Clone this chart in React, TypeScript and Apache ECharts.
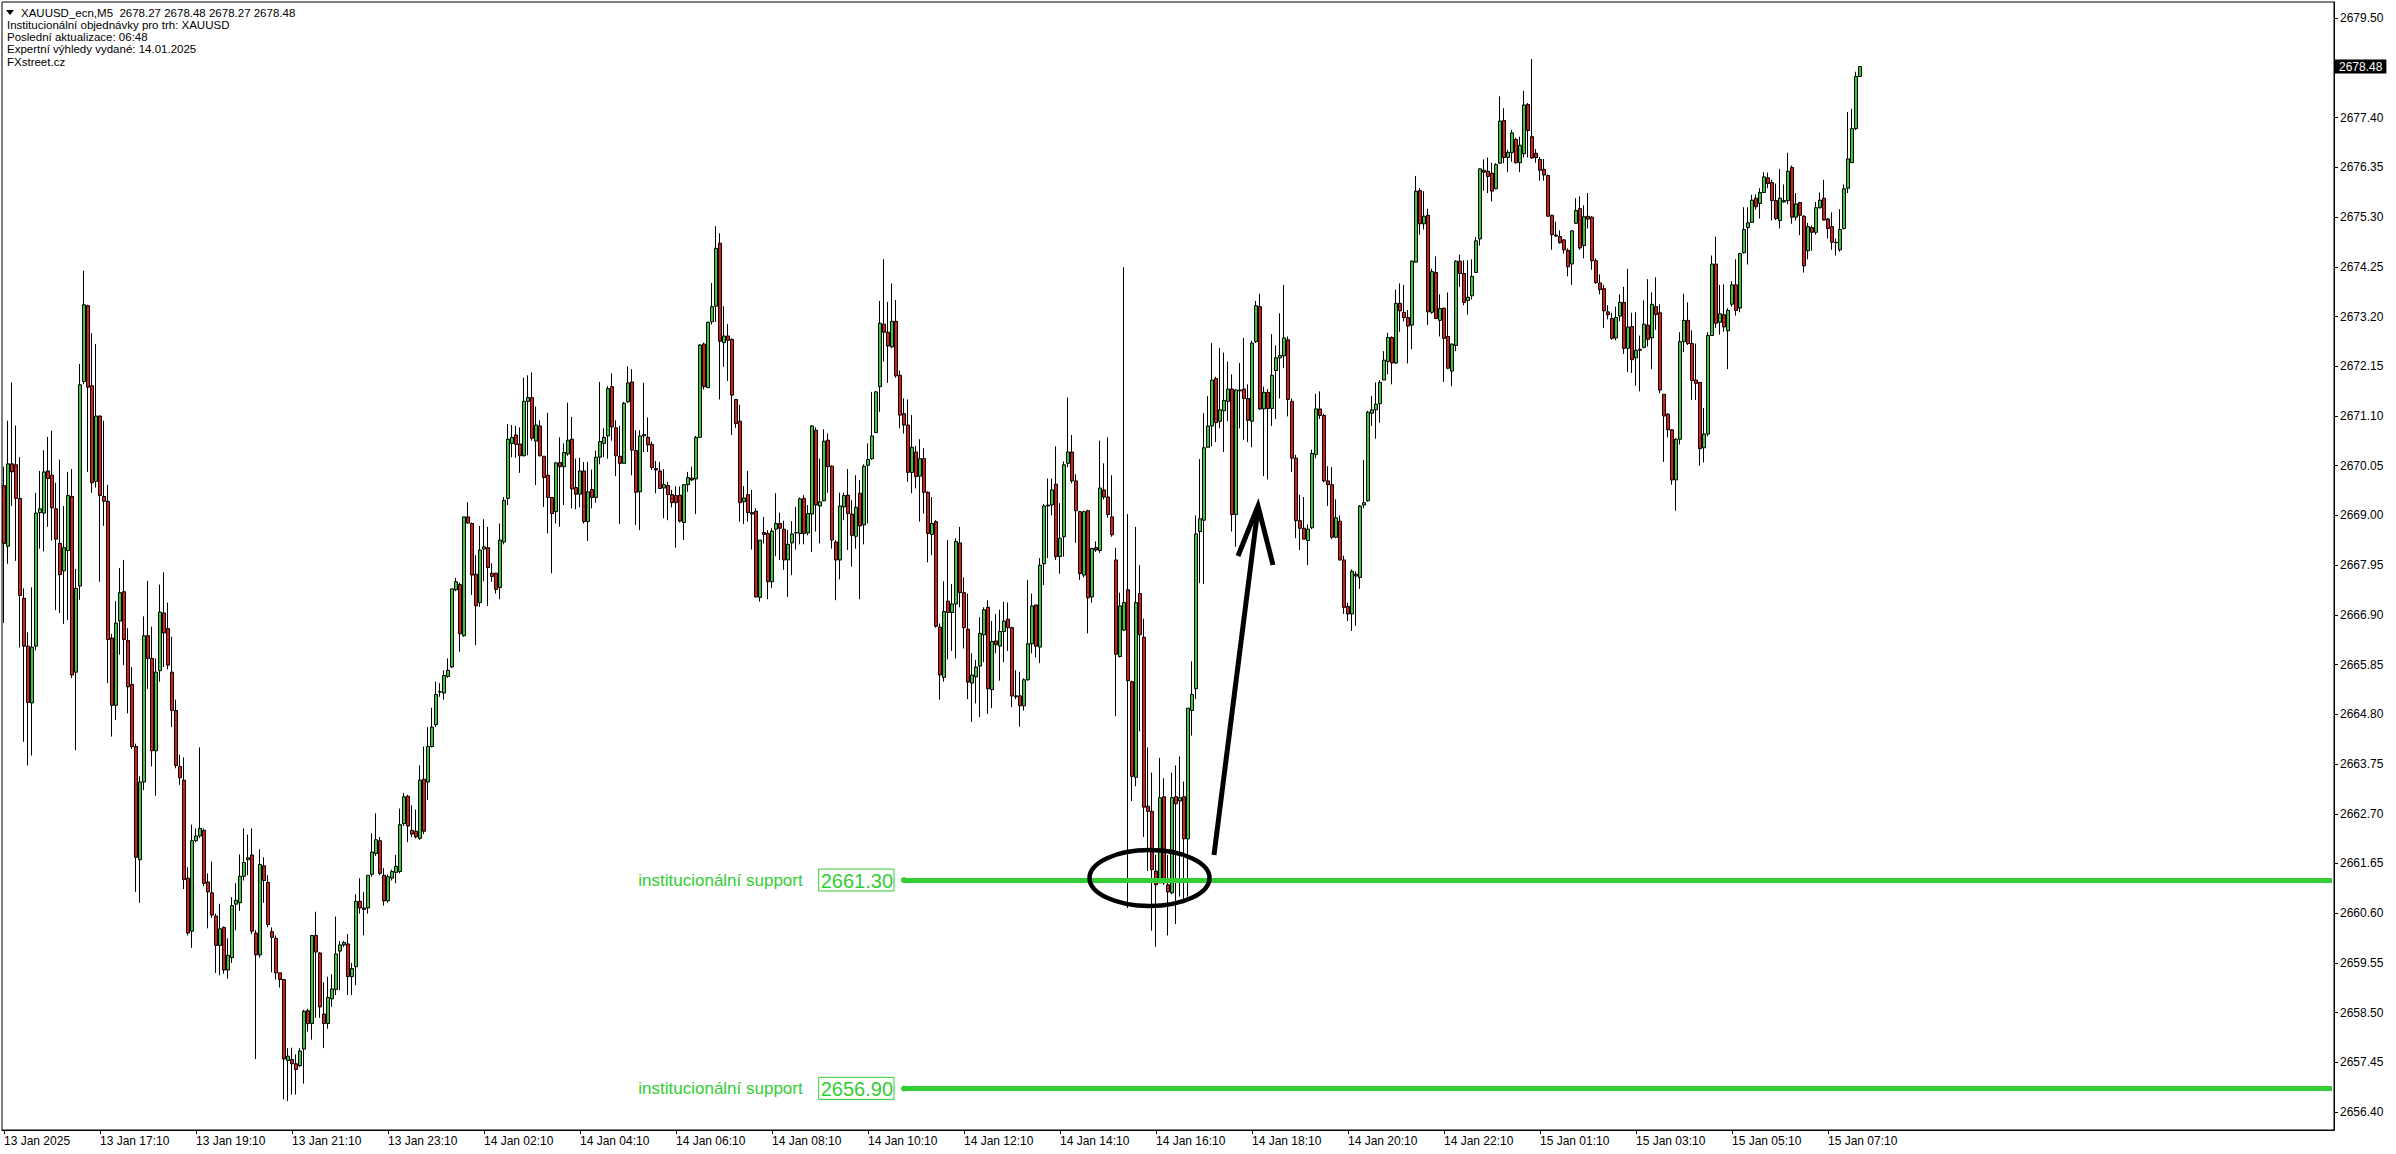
import React, { useEffect, useRef } from "react";
import * as echarts from "echarts";

const FONT = "'Liberation Sans', Arial, sans-serif";

const headerLines = [
  "XAUUSD_ecn,M5  2678.27 2678.48 2678.27 2678.48",
  "Institucionální objednávky pro trh: XAUUSD",
  "Poslední aktualizace: 06:48",
  "Expertní výhledy vydané: 14.01.2025",
  "FXstreet.cz",
];

const xTickLabels = [
  "13 Jan 2025", "13 Jan 17:10", "13 Jan 19:10", "13 Jan 21:10", "13 Jan 23:10",
  "14 Jan 02:10", "14 Jan 04:10", "14 Jan 06:10", "14 Jan 08:10", "14 Jan 10:10",
  "14 Jan 12:10", "14 Jan 14:10", "14 Jan 16:10", "14 Jan 18:10", "14 Jan 20:10",
  "14 Jan 22:10", "15 Jan 01:10", "15 Jan 03:10", "15 Jan 05:10", "15 Jan 07:10",
];
const BARS_PER_LABEL = 24;
const SLOT_COUNT = 583;

const yTickValues = [
  2656.40, 2657.45, 2658.50, 2659.55, 2660.60, 2661.65, 2662.70, 2663.75, 2664.80, 2665.85,
  2666.90, 2667.95, 2669.00, 2670.05, 2671.10, 2672.15, 2673.20, 2674.25, 2675.30, 2676.35,
  2677.40, 2678.45, 2679.50,
];
const yLabelValues = yTickValues.filter((v) => v !== 2678.45);

const lastPrice = 2678.48;
const supportLevels = [2661.30, 2656.90];
const supportLabel = "institucionální support";
const supportStartBar = 225;

const opens = [
  2669.63, 2668.35, 2670.09, 2670.07, 2669.36, 2667.25, 2666.24, 2665.04, 2666.24, 2669.06,
  2669.05, 2669.94, 2669.85, 2669.14, 2668.41, 2667.83, 2668.26, 2669.40, 2665.69, 2667.51,
  2671.83, 2673.43, 2671.74, 2669.72, 2671.10, 2669.40, 2669.30, 2666.41, 2664.99, 2666.77,
  2667.39, 2666.36, 2665.43, 2664.12, 2661.73, 2663.37, 2666.46, 2665.98, 2664.03, 2665.72,
  2666.94, 2666.61, 2665.69, 2664.88, 2663.70, 2663.41, 2661.34, 2660.22, 2662.13, 2662.23,
  2662.35, 2661.26, 2661.03, 2660.54, 2659.92, 2660.30, 2659.40, 2659.66, 2660.79, 2660.82,
  2661.38, 2661.73, 2661.83, 2660.18, 2659.72, 2661.60, 2661.25, 2660.21, 2660.07, 2659.34,
  2659.20, 2657.49, 2657.51, 2657.42, 2657.38, 2657.73, 2658.54, 2658.27, 2660.13, 2659.76,
  2658.47, 2658.27, 2658.79, 2658.99, 2659.80, 2659.93, 2659.95, 2659.26, 2659.47, 2660.85,
  2660.71, 2660.71, 2661.42, 2661.86, 2662.13, 2661.40, 2660.86, 2661.34, 2661.46, 2661.48,
  2662.49, 2663.07, 2662.35, 2662.33, 2662.18, 2663.43, 2663.37, 2664.12, 2664.58, 2665.27,
  2665.25, 2665.60, 2665.80, 2667.43, 2667.54, 2666.46, 2668.97, 2668.83, 2667.76, 2667.16,
  2668.29, 2668.32, 2667.78, 2667.78, 2667.48, 2668.44, 2669.36, 2670.52, 2670.70, 2670.51,
  2670.26, 2671.41, 2671.49, 2670.57, 2670.89, 2670.25, 2669.85, 2669.38, 2669.08, 2670.12,
  2670.03, 2670.30, 2670.61, 2669.59, 2669.45, 2669.94, 2668.87, 2669.55, 2669.38, 2670.23,
  2670.52, 2670.68, 2671.72, 2670.85, 2670.25, 2670.10, 2671.40, 2671.82, 2670.37, 2669.50,
  2670.71, 2670.65, 2670.50, 2669.99, 2669.94, 2669.58, 2669.63, 2669.44, 2669.42, 2669.43,
  2668.85, 2669.65, 2669.79, 2669.77, 2670.65, 2672.62, 2671.70, 2673.09, 2673.42, 2674.75,
  2672.65, 2672.79, 2672.72, 2671.45, 2670.99, 2669.29, 2669.44, 2669.06, 2669.09, 2667.27,
  2668.64, 2668.62, 2667.60, 2668.71, 2668.83, 2668.71, 2668.06, 2668.42, 2668.63, 2668.62,
  2669.36, 2668.63, 2669.03, 2670.80, 2669.20, 2669.31, 2670.59, 2670.04, 2668.44, 2668.06,
  2669.18, 2669.43, 2669.03, 2668.56, 2669.47, 2668.80, 2670.06, 2670.20, 2670.75, 2671.72,
  2673.04, 2672.87, 2672.56, 2673.10, 2671.96, 2671.15, 2670.91, 2669.91, 2670.34, 2669.83,
  2670.20, 2669.49, 2668.60, 2668.87, 2666.64, 2665.58, 2667.19, 2666.95, 2667.13, 2668.42,
  2667.37, 2666.60, 2665.46, 2665.59, 2665.82, 2666.48, 2667.06, 2665.32, 2666.35, 2666.24,
  2666.55, 2666.81, 2666.63, 2665.17, 2665.19, 2664.98, 2665.53, 2666.29, 2667.11, 2666.22,
  2667.98, 2669.20, 2669.22, 2669.66, 2668.13, 2668.55, 2670.10, 2670.34, 2669.73, 2669.08,
  2667.74, 2669.10, 2667.28, 2668.32, 2668.26, 2669.54, 2669.39, 2668.97, 2668.06, 2666.02,
  2666.58, 2667.43, 2665.49, 2663.47, 2667.35, 2666.43, 2662.86, 2662.75, 2661.49, 2661.24,
  2663.06, 2661.20, 2661.03, 2663.06, 2662.97, 2663.06, 2662.17, 2664.88, 2665.34, 2668.66,
  2668.90, 2670.44, 2670.89, 2671.89, 2670.99, 2671.21, 2671.41, 2671.67, 2669.02, 2671.63,
  2671.67, 2671.47, 2670.99, 2672.67, 2673.41, 2671.25, 2671.60, 2671.26, 2672.06, 2672.33,
  2672.37, 2672.71, 2671.41, 2670.21, 2668.89, 2668.73, 2668.47, 2668.74, 2670.29, 2671.25,
  2671.11, 2669.73, 2669.65, 2668.54, 2668.88, 2668.06, 2667.08, 2666.92, 2667.76, 2667.69,
  2669.22, 2669.31, 2671.16, 2671.23, 2671.36, 2671.86, 2672.25, 2672.76, 2672.22, 2673.48,
  2673.29, 2673.18, 2673.02, 2674.35, 2675.86, 2675.16, 2675.34, 2673.29, 2674.13, 2673.12,
  2673.38, 2672.78, 2672.05, 2672.59, 2674.37, 2674.11, 2673.54, 2673.64, 2674.13, 2674.84,
  2676.29, 2676.27, 2676.23, 2675.90, 2676.44, 2677.34, 2676.56, 2676.66, 2676.94, 2676.45,
  2676.64, 2677.68, 2677.00, 2676.65, 2676.52, 2676.31, 2676.18, 2675.34, 2674.92, 2674.89,
  2674.82, 2674.60, 2674.31, 2675.17, 2675.48, 2674.70, 2675.32, 2675.30, 2674.38, 2673.91,
  2673.79, 2673.30, 2673.16, 2672.75, 2673.21, 2673.50, 2672.53, 2672.99, 2672.33, 2672.51,
  2672.55, 2673.02, 2672.75, 2673.41, 2673.28, 2671.56, 2671.14, 2670.81, 2669.75, 2670.61,
  2672.67, 2673.12, 2672.63, 2671.86, 2671.81, 2670.43, 2670.72, 2672.80, 2674.31, 2673.08,
  2673.24, 2672.90, 2673.46, 2673.87, 2673.38, 2674.55, 2675.08, 2675.19, 2675.70, 2675.59,
  2675.82, 2676.13, 2676.03, 2675.65, 2675.23, 2675.62, 2675.65, 2676.35, 2675.30, 2675.61,
  2675.32, 2674.59, 2675.08, 2674.98, 2675.50, 2675.70, 2675.26, 2675.10, 2674.77, 2674.61,
  2675.06, 2675.91, 2676.45, 2677.17, 2678.27,
];

const highs = [
  2670.03, 2671.00, 2671.81, 2670.90, 2670.23, 2667.46, 2666.53, 2667.48, 2669.48, 2669.94,
  2670.38, 2670.66, 2670.79, 2669.69, 2670.18, 2669.20, 2669.92, 2669.98, 2667.87, 2672.20,
  2674.17, 2673.45, 2672.85, 2672.62, 2671.11, 2671.00, 2669.65, 2666.50, 2667.19, 2667.89,
  2668.06, 2666.62, 2665.80, 2664.18, 2663.49, 2666.87, 2667.62, 2666.65, 2665.98, 2667.54,
  2667.80, 2667.16, 2666.44, 2665.11, 2663.95, 2663.89, 2661.57, 2662.47, 2662.39, 2664.10,
  2662.39, 2661.44, 2661.69, 2660.59, 2660.80, 2660.32, 2660.07, 2660.94, 2661.23, 2661.84,
  2662.39, 2662.26, 2662.39, 2660.24, 2661.95, 2661.78, 2661.40, 2660.30, 2660.13, 2659.34,
  2659.20, 2657.75, 2657.76, 2657.62, 2657.75, 2658.56, 2658.58, 2660.13, 2660.63, 2659.78,
  2659.14, 2659.26, 2659.31, 2660.53, 2660.01, 2660.01, 2660.16, 2659.55, 2661.00, 2661.34,
  2661.05, 2661.40, 2662.29, 2662.71, 2662.21, 2661.55, 2661.42, 2661.52, 2661.83, 2662.81,
  2663.14, 2663.10, 2662.88, 2662.79, 2663.72, 2664.12, 2664.53, 2664.94, 2665.49, 2665.46,
  2665.73, 2665.98, 2667.45, 2667.68, 2667.58, 2668.97, 2669.28, 2668.85, 2668.16, 2668.78,
  2668.92, 2668.76, 2667.99, 2667.79, 2668.83, 2669.39, 2670.93, 2670.91, 2670.89, 2670.86,
  2671.91, 2671.96, 2672.02, 2671.30, 2671.01, 2670.25, 2671.17, 2669.39, 2670.13, 2670.65,
  2670.52, 2671.38, 2671.08, 2670.20, 2670.22, 2670.13, 2670.13, 2669.97, 2670.37, 2671.82,
  2670.84, 2671.73, 2672.00, 2671.01, 2670.89, 2671.40, 2672.15, 2672.09, 2670.80, 2670.80,
  2671.80, 2671.07, 2670.56, 2670.15, 2670.13, 2669.98, 2669.71, 2669.54, 2669.62, 2669.61,
  2669.66, 2669.92, 2670.03, 2670.68, 2672.62, 2672.65, 2673.09, 2673.91, 2675.11, 2674.96,
  2673.42, 2673.04, 2672.74, 2671.46, 2671.34, 2669.62, 2669.94, 2669.54, 2669.15, 2668.48,
  2668.97, 2668.69, 2668.73, 2669.47, 2669.06, 2668.89, 2668.69, 2668.88, 2669.18, 2669.38,
  2669.43, 2669.22, 2670.91, 2670.86, 2670.20, 2670.82, 2670.73, 2670.06, 2668.48, 2669.48,
  2669.48, 2669.98, 2669.32, 2669.85, 2669.75, 2670.08, 2670.52, 2671.61, 2671.63, 2673.53,
  2674.41, 2673.51, 2673.90, 2673.55, 2672.06, 2671.47, 2671.45, 2671.12, 2670.47, 2670.61,
  2670.42, 2669.51, 2669.39, 2668.90, 2666.72, 2667.61, 2668.48, 2667.55, 2668.52, 2668.76,
  2667.69, 2667.35, 2666.09, 2665.95, 2666.85, 2667.06, 2667.21, 2666.77, 2666.92, 2667.01,
  2667.18, 2667.16, 2666.65, 2665.73, 2665.70, 2665.56, 2667.64, 2667.35, 2667.11, 2668.10,
  2669.24, 2669.78, 2669.78, 2670.46, 2669.26, 2670.14, 2671.49, 2670.70, 2669.87, 2669.10,
  2669.10, 2669.12, 2668.32, 2668.45, 2670.58, 2670.10, 2670.65, 2669.85, 2668.32, 2667.37,
  2674.24, 2669.03, 2665.51, 2668.76, 2667.95, 2666.82, 2664.10, 2663.57, 2661.83, 2663.88,
  2663.45, 2661.83, 2663.57, 2663.72, 2663.91, 2663.38, 2664.93, 2665.92, 2669.00, 2670.19,
  2671.16, 2671.52, 2672.64, 2671.93, 2672.54, 2672.44, 2672.25, 2671.98, 2671.67, 2672.22,
  2672.75, 2671.77, 2672.69, 2673.53, 2673.68, 2671.72, 2671.67, 2672.83, 2672.59, 2673.27,
  2673.87, 2672.78, 2671.47, 2670.28, 2669.44, 2669.39, 2668.81, 2670.39, 2671.57, 2671.62,
  2671.15, 2670.04, 2670.02, 2669.34, 2669.00, 2668.15, 2667.16, 2667.86, 2667.82, 2669.22,
  2670.17, 2671.21, 2671.52, 2671.81, 2671.86, 2672.47, 2672.86, 2672.78, 2673.77, 2673.90,
  2673.87, 2673.34, 2674.39, 2676.17, 2675.91, 2675.85, 2675.48, 2674.21, 2674.47, 2673.67,
  2673.38, 2673.71, 2672.63, 2674.39, 2674.51, 2674.39, 2674.39, 2674.41, 2674.88, 2676.33,
  2676.52, 2676.56, 2676.45, 2676.44, 2677.85, 2677.60, 2676.72, 2677.14, 2676.98, 2677.00,
  2677.97, 2677.71, 2678.64, 2676.74, 2676.57, 2676.53, 2676.20, 2675.35, 2675.20, 2675.02,
  2674.84, 2674.64, 2675.02, 2675.70, 2675.74, 2675.55, 2675.81, 2675.32, 2674.43, 2674.09,
  2673.87, 2673.44, 2673.28, 2673.41, 2673.67, 2673.83, 2674.21, 2673.28, 2673.29, 2672.80,
  2673.54, 2673.99, 2673.71, 2674.03, 2673.46, 2671.56, 2671.16, 2670.82, 2670.63, 2672.87,
  2673.68, 2673.50, 2672.91, 2672.63, 2671.82, 2671.27, 2672.87, 2674.49, 2674.89, 2673.87,
  2673.88, 2673.38, 2673.95, 2674.41, 2674.55, 2675.51, 2675.51, 2675.77, 2675.78, 2675.91,
  2676.25, 2676.24, 2676.09, 2676.01, 2676.32, 2675.99, 2676.66, 2676.39, 2675.81, 2675.62,
  2675.34, 2675.18, 2675.12, 2675.62, 2675.82, 2676.09, 2675.28, 2675.40, 2674.85, 2675.47,
  2675.99, 2677.52, 2677.59, 2678.37, 2678.48,
];

const lows = [
  2666.73, 2667.98, 2669.20, 2668.04, 2666.21, 2664.22, 2663.72, 2663.93, 2666.15, 2668.30,
  2668.24, 2668.76, 2668.47, 2667.00, 2666.94, 2666.71, 2666.79, 2665.57, 2664.04, 2667.22,
  2671.77, 2669.92, 2669.48, 2669.59, 2667.60, 2668.78, 2665.46, 2664.33, 2664.68, 2666.06,
  2665.84, 2664.82, 2664.07, 2661.05, 2660.82, 2663.20, 2665.34, 2663.70, 2663.08, 2665.49,
  2665.80, 2665.75, 2664.53, 2663.66, 2663.31, 2661.11, 2660.13, 2659.87, 2662.10, 2662.19,
  2661.17, 2660.28, 2660.50, 2659.34, 2659.29, 2659.32, 2659.22, 2659.55, 2660.24, 2660.65,
  2661.29, 2661.40, 2660.16, 2657.52, 2659.66, 2660.82, 2660.30, 2659.35, 2659.20, 2659.03,
  2656.67, 2656.63, 2656.77, 2656.77, 2657.35, 2657.00, 2658.10, 2657.93, 2658.39, 2658.39,
  2657.75, 2658.16, 2658.62, 2658.87, 2658.97, 2659.89, 2658.87, 2658.87, 2659.08, 2660.59,
  2660.13, 2660.59, 2661.37, 2661.81, 2661.40, 2660.76, 2660.82, 2661.29, 2661.23, 2661.44,
  2662.44, 2662.10, 2662.21, 2662.18, 2662.15, 2662.27, 2662.99, 2664.10, 2664.53, 2665.17,
  2665.11, 2665.57, 2665.78, 2667.40, 2666.12, 2666.44, 2668.82, 2667.32, 2666.26, 2667.07,
  2667.61, 2667.09, 2667.60, 2667.35, 2667.23, 2668.39, 2669.22, 2670.23, 2670.22, 2669.90,
  2670.25, 2670.27, 2670.58, 2669.64, 2670.25, 2669.18, 2668.62, 2667.78, 2668.83, 2668.76,
  2669.22, 2670.26, 2669.15, 2669.13, 2669.17, 2668.83, 2668.46, 2669.15, 2669.27, 2670.08,
  2670.23, 2670.20, 2670.58, 2669.83, 2668.82, 2670.10, 2671.38, 2669.85, 2668.80, 2668.69,
  2670.34, 2670.34, 2669.96, 2669.47, 2669.56, 2668.94, 2668.90, 2669.17, 2668.32, 2668.85,
  2668.48, 2669.50, 2669.73, 2669.03, 2670.64, 2671.66, 2671.70, 2673.03, 2673.09, 2671.45,
  2672.14, 2671.84, 2670.70, 2670.85, 2668.87, 2668.82, 2668.87, 2668.28, 2667.27, 2667.18,
  2668.41, 2667.23, 2667.47, 2668.14, 2668.06, 2667.85, 2667.28, 2667.74, 2668.28, 2668.39,
  2668.39, 2668.58, 2668.23, 2668.66, 2668.41, 2669.30, 2669.48, 2668.30, 2667.21, 2667.65,
  2668.90, 2668.27, 2667.92, 2668.30, 2667.23, 2668.39, 2668.83, 2670.18, 2670.75, 2671.19,
  2672.25, 2671.80, 2672.53, 2671.91, 2670.84, 2670.73, 2669.71, 2669.47, 2669.57, 2668.87,
  2669.04, 2668.01, 2668.16, 2666.63, 2665.11, 2665.49, 2665.96, 2666.14, 2665.98, 2667.06,
  2666.19, 2665.12, 2664.64, 2665.03, 2664.74, 2665.90, 2664.81, 2664.93, 2666.09, 2665.51,
  2665.90, 2666.14, 2664.95, 2665.12, 2664.54, 2664.88, 2665.51, 2666.09, 2666.00, 2665.88,
  2667.53, 2668.10, 2669.00, 2668.06, 2667.77, 2668.13, 2670.02, 2669.68, 2668.42, 2667.64,
  2667.69, 2666.51, 2667.16, 2668.23, 2668.21, 2669.34, 2668.95, 2668.55, 2664.76, 2666.00,
  2666.56, 2660.71, 2662.97, 2663.28, 2664.44, 2662.21, 2661.49, 2660.23, 2659.89, 2661.24,
  2661.20, 2660.13, 2661.00, 2660.37, 2660.95, 2660.81, 2660.95, 2664.35, 2665.12, 2667.57,
  2667.55, 2670.44, 2670.46, 2670.55, 2670.84, 2670.34, 2670.99, 2668.66, 2668.34, 2670.84,
  2670.60, 2670.55, 2670.44, 2672.64, 2671.23, 2669.83, 2669.76, 2670.89, 2671.04, 2671.47,
  2672.11, 2671.09, 2669.92, 2668.52, 2668.27, 2668.50, 2667.95, 2668.71, 2670.21, 2671.04,
  2669.70, 2669.20, 2668.50, 2668.52, 2668.05, 2666.92, 2666.77, 2666.56, 2666.67, 2667.45,
  2669.15, 2669.29, 2670.89, 2670.62, 2670.96, 2671.86, 2671.98, 2671.77, 2672.20, 2672.88,
  2673.10, 2672.21, 2672.51, 2674.34, 2674.93, 2675.04, 2673.02, 2673.26, 2673.16, 2672.78,
  2671.82, 2672.09, 2671.73, 2672.47, 2673.83, 2673.44, 2673.24, 2673.56, 2674.13, 2674.70,
  2675.86, 2675.81, 2675.63, 2675.89, 2676.43, 2676.44, 2676.25, 2676.47, 2676.43, 2676.25,
  2676.56, 2676.56, 2676.53, 2676.45, 2676.07, 2676.07, 2675.31, 2674.61, 2674.88, 2674.74,
  2674.53, 2674.05, 2673.87, 2675.16, 2674.61, 2674.43, 2675.06, 2674.19, 2673.89, 2673.67,
  2672.96, 2673.14, 2672.71, 2672.70, 2673.10, 2672.41, 2672.03, 2672.01, 2671.74, 2671.62,
  2672.53, 2672.57, 2672.09, 2672.92, 2671.58, 2670.13, 2670.65, 2669.65, 2669.10, 2670.50,
  2672.45, 2672.60, 2671.44, 2671.44, 2670.05, 2670.12, 2670.67, 2672.79, 2672.96, 2672.82,
  2672.88, 2672.09, 2673.41, 2673.22, 2673.29, 2674.53, 2674.30, 2675.18, 2675.46, 2675.27,
  2675.81, 2675.91, 2675.23, 2675.24, 2675.06, 2675.61, 2675.57, 2675.16, 2675.23, 2674.92,
  2674.13, 2674.41, 2674.59, 2674.93, 2675.48, 2675.23, 2674.85, 2674.61, 2674.49, 2674.57,
  2675.04, 2675.81, 2676.45, 2677.14, 2678.27,
];

const closes = [
  2668.41, 2670.09, 2669.92, 2669.36, 2667.31, 2666.24, 2665.05, 2666.22, 2669.05, 2669.14,
  2669.92, 2669.78, 2669.16, 2668.50, 2667.75, 2668.32, 2669.42, 2665.63, 2667.46, 2671.76,
  2673.45, 2671.71, 2669.69, 2671.10, 2669.42, 2669.30, 2666.38, 2664.99, 2666.73, 2667.37,
  2666.38, 2665.38, 2664.12, 2661.78, 2663.37, 2666.46, 2665.98, 2664.03, 2665.69, 2666.96,
  2666.52, 2665.84, 2664.88, 2663.72, 2663.46, 2661.31, 2660.18, 2662.13, 2662.23, 2662.39,
  2661.23, 2661.05, 2660.56, 2659.92, 2660.27, 2659.40, 2659.71, 2660.76, 2660.87, 2661.38,
  2661.67, 2661.77, 2660.22, 2659.72, 2661.63, 2661.29, 2660.36, 2660.09, 2659.34, 2659.20,
  2657.52, 2657.58, 2657.42, 2657.30, 2657.69, 2658.53, 2658.27, 2660.13, 2659.78, 2658.62,
  2658.27, 2658.82, 2659.00, 2659.74, 2659.93, 2659.98, 2659.26, 2659.43, 2660.85, 2660.71,
  2660.68, 2661.40, 2661.89, 2662.15, 2661.44, 2660.86, 2661.37, 2661.48, 2661.59, 2662.47,
  2663.06, 2662.44, 2662.27, 2662.21, 2663.41, 2662.33, 2664.12, 2664.53, 2665.22, 2665.28,
  2665.62, 2665.73, 2667.45, 2667.60, 2666.50, 2668.97, 2668.84, 2667.74, 2667.09, 2668.27,
  2668.34, 2667.90, 2667.71, 2667.44, 2668.48, 2669.32, 2670.61, 2670.65, 2670.50, 2670.26,
  2671.41, 2671.49, 2670.63, 2670.91, 2670.26, 2669.80, 2669.38, 2669.04, 2670.11, 2670.03,
  2670.33, 2670.59, 2669.56, 2669.45, 2669.94, 2668.87, 2669.50, 2669.38, 2670.23, 2670.56,
  2670.65, 2671.68, 2670.87, 2670.26, 2670.10, 2671.37, 2671.80, 2670.38, 2669.49, 2670.68,
  2670.68, 2670.49, 2670.01, 2669.96, 2669.57, 2669.65, 2669.44, 2669.27, 2669.27, 2668.88,
  2669.65, 2669.80, 2669.75, 2670.65, 2672.60, 2671.72, 2673.08, 2673.41, 2674.64, 2672.68,
  2672.79, 2672.70, 2671.54, 2670.94, 2669.27, 2669.37, 2669.06, 2669.03, 2667.28, 2668.48,
  2668.60, 2667.60, 2668.67, 2668.83, 2668.73, 2668.06, 2668.39, 2668.61, 2668.64, 2669.35,
  2668.62, 2669.04, 2670.89, 2669.22, 2669.29, 2670.57, 2670.03, 2668.48, 2668.06, 2669.20,
  2669.42, 2669.04, 2668.58, 2669.17, 2668.78, 2670.04, 2670.18, 2670.68, 2671.61, 2673.06,
  2672.87, 2672.58, 2673.10, 2671.95, 2671.12, 2670.91, 2669.91, 2670.44, 2669.82, 2670.20,
  2669.49, 2668.62, 2668.83, 2666.66, 2665.63, 2666.97, 2666.95, 2667.13, 2668.45, 2667.37,
  2666.63, 2665.48, 2665.63, 2665.80, 2666.51, 2667.01, 2665.34, 2666.34, 2666.27, 2666.55,
  2666.77, 2666.63, 2665.19, 2665.19, 2664.98, 2665.53, 2666.29, 2667.09, 2666.24, 2667.95,
  2669.20, 2669.22, 2669.54, 2668.13, 2668.52, 2670.07, 2670.34, 2669.73, 2669.10, 2667.77,
  2669.08, 2667.26, 2668.30, 2668.27, 2669.58, 2669.39, 2669.02, 2668.59, 2666.07, 2667.09,
  2667.16, 2665.51, 2663.49, 2667.16, 2666.48, 2662.84, 2662.75, 2661.52, 2661.20, 2663.04,
  2661.24, 2661.05, 2663.04, 2662.91, 2663.04, 2662.17, 2664.93, 2665.22, 2668.61, 2668.93,
  2670.43, 2670.89, 2671.86, 2670.96, 2671.23, 2671.43, 2671.67, 2669.02, 2671.65, 2671.65,
  2671.47, 2671.01, 2672.64, 2673.43, 2671.25, 2671.60, 2671.26, 2671.96, 2672.33, 2672.38,
  2672.75, 2671.45, 2670.21, 2668.89, 2668.73, 2668.50, 2668.71, 2670.31, 2671.25, 2671.11,
  2669.73, 2669.65, 2668.54, 2668.95, 2668.06, 2667.06, 2666.92, 2667.82, 2667.72, 2669.20,
  2669.27, 2671.18, 2671.23, 2671.35, 2671.81, 2672.28, 2672.76, 2672.22, 2673.48, 2673.32,
  2673.18, 2673.00, 2674.37, 2675.85, 2675.16, 2675.32, 2673.30, 2674.15, 2673.16, 2673.37,
  2672.74, 2672.11, 2672.62, 2674.37, 2674.11, 2673.50, 2673.61, 2674.05, 2674.80, 2676.32,
  2676.25, 2676.16, 2675.85, 2676.41, 2677.33, 2676.56, 2676.67, 2677.08, 2676.45, 2676.82,
  2677.67, 2677.13, 2676.55, 2676.56, 2676.29, 2676.19, 2675.32, 2674.93, 2674.90, 2674.76,
  2674.61, 2674.25, 2675.01, 2675.44, 2674.65, 2675.31, 2675.26, 2674.38, 2673.92, 2673.77,
  2673.32, 2673.24, 2672.74, 2673.18, 2673.50, 2672.53, 2672.98, 2672.29, 2672.49, 2672.49,
  2673.04, 2672.72, 2673.46, 2673.24, 2671.65, 2671.10, 2670.81, 2669.75, 2670.61, 2672.67,
  2673.12, 2672.63, 2671.85, 2671.79, 2670.41, 2670.72, 2672.80, 2674.31, 2673.06, 2673.26,
  2672.98, 2673.33, 2673.87, 2673.33, 2674.53, 2675.04, 2675.18, 2675.66, 2675.52, 2675.82,
  2676.15, 2676.01, 2675.65, 2675.27, 2675.70, 2675.65, 2676.27, 2675.30, 2675.58, 2675.34,
  2674.27, 2675.10, 2674.98, 2675.50, 2675.66, 2675.24, 2675.06, 2674.77, 2674.76, 2675.04,
  2675.90, 2676.53, 2677.17, 2678.27, 2678.48,
];

const GREEN = "#32CD32";

export default function App() {
  const ref = useRef<HTMLDivElement>(null);

  useEffect(() => {
    if (!ref.current) return;
    const chart = echarts.init(ref.current, undefined, { renderer: "svg" });

    const categories = Array.from({ length: SLOT_COUNT }, (_, i) => String(i));
    const candleData = opens.map((o, i) => [o, closes[i], lows[i], highs[i]]);
    const isLabelSlot = (idx: number) =>
      idx % BARS_PER_LABEL === 0 && idx / BARS_PER_LABEL < xTickLabels.length;

    const supportLines = supportLevels.map((v) => [
      {
        coord: [supportStartBar, v],
        symbol: "circle",
        symbolSize: 6,
        lineStyle: { color: GREEN, width: 5, type: "solid" },
        label: {
          show: true,
          position: "start",
          distance: 10,
          formatter: `{a|${supportLabel}}{s| }{b|${v.toFixed(2)}}`,
          rich: {
            a: { color: GREEN, fontSize: 17, fontFamily: FONT },
            s: { width: 16 },
            b: {
              color: GREEN,
              fontSize: 20,
              fontFamily: FONT,
              borderColor: GREEN,
              borderWidth: 1,
              padding: [2, 1, 0, 2],
              lineHeight: 22,
            },
          },
        },
      },
      { coord: [SLOT_COUNT - 1, v], symbol: "none" },
    ]);

    const option: any = {
      animation: false,
      backgroundColor: "#fff",
      textStyle: { fontFamily: FONT },
      grid: {
        left: 2,
        right: 62,
        top: 2,
        bottom: 24,
        show: true,
        borderColor: "#000",
        borderWidth: 1,
        backgroundColor: "#fff",
      },
      xAxis: {
        type: "category",
        data: categories,
        boundaryGap: true,
        axisLine: { show: true, lineStyle: { color: "#000", width: 1 } },
        axisTick: {
          show: true,
          interval: (idx: number) => isLabelSlot(idx),
          alignWithLabel: true,
          length: 4,
          lineStyle: { color: "#000" },
        },
        axisLabel: {
          interval: (idx: number) => isLabelSlot(idx),
          formatter: (_v: string, idx: number) => xTickLabels[idx / BARS_PER_LABEL] ?? "",
          align: "left",
          color: "#000",
          fontFamily: FONT,
          fontSize: 12,
          margin: 5,
        },
        splitLine: { show: false },
      },
      yAxis: {
        type: "value",
        position: "right",
        min: 2656.021,
        max: 2679.844,
        scale: true,
        splitLine: { show: false },
        axisLine: { show: true, lineStyle: { color: "#000", width: 1 } },
        axisTick: {
          show: true,
          customValues: yTickValues,
          length: 4,
          lineStyle: { color: "#000" },
        },
        axisLabel: {
          customValues: yLabelValues,
          formatter: (v: number) => v.toFixed(2),
          color: "#000",
          fontFamily: FONT,
          fontSize: 12,
          margin: 6,
        },
      },
      series: [
        {
          type: "candlestick",
          data: candleData,
          barWidth: 3,
          clip: false,
          itemStyle: {
            color: GREEN,
            color0: "#E01818",
            borderColor: "#000",
            borderColor0: "#000",
            borderColorDoji: "#000",
            borderWidth: 1,
          },
          emphasis: { disabled: true },
          markLine: {
            silent: true,
            animation: false,
            symbol: ["none", "none"],
            emphasis: { disabled: true },
            data: [
              ...supportLines,
              {
                yAxis: lastPrice,
                lineStyle: { color: "rgba(0,0,0,0)", width: 1 },
                label: {
                  show: true,
                  position: "end",
                  distance: 1,
                  formatter: lastPrice.toFixed(2),
                  backgroundColor: "#000",
                  color: "#fff",
                  fontFamily: FONT,
                  fontSize: 12,
                  padding: [1, 4, 1, 4],
                },
              },
            ],
          },
        },
      ],
      graphic: [
        {
          type: "polygon",
          shape: { points: [[6, 10], [14, 10], [10, 15]] },
          style: { fill: "#000" },
          z: 100,
        },
        ...headerLines.map((t, k) => ({
          type: "text",
          x: k === 0 ? 21 : 7,
          y: 12.5 + 12.3 * k,
          z: 100,
          style: {
            text: t,
            fill: "#000",
            fontSize: 11.5,
            fontFamily: FONT,
            verticalAlign: "middle",
          },
        })),
        {
          type: "ellipse",
          shape: { cx: 1149.5, cy: 878, rx: 60, ry: 28 },
          style: { fill: "none", stroke: "#000", lineWidth: 4.5 },
          z: 100,
        },
        {
          type: "line",
          shape: { x1: 1214, y1: 855, x2: 1258, y2: 508 },
          style: { stroke: "#000", lineWidth: 5 },
          z: 100,
        },
        {
          type: "polyline",
          shape: { points: [[1238, 556], [1258, 506], [1273, 565]] },
          style: { stroke: "#000", lineWidth: 5, fill: "none" },
          z: 100,
        },
      ],
    };

    chart.setOption(option);
    return () => chart.dispose();
  }, []);

  return (
    <div
      ref={ref}
      style={{ position: "absolute", left: 0, top: 0, width: 2396, height: 1154 }}
    />
  );
}
